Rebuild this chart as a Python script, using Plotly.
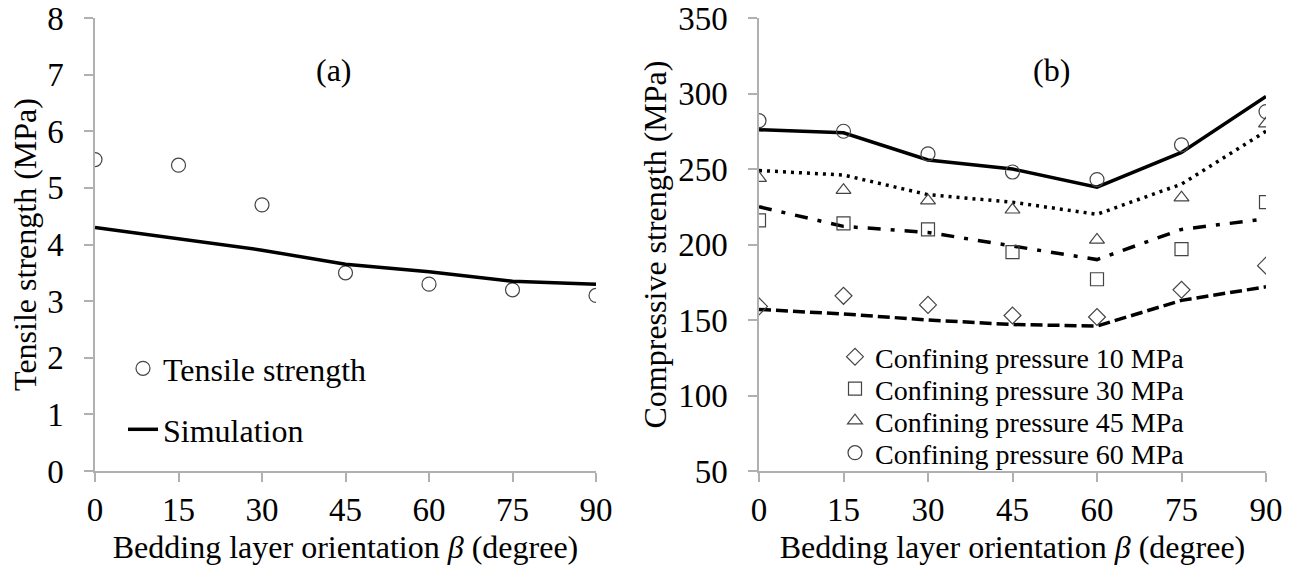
import plotly.graph_objects as go

beta = [0, 15, 30, 45, 60, 75, 90]
tensile_exp = [5.5, 5.4, 4.7, 3.5, 3.3, 3.2, 3.1]
tensile_sim = [4.3, 4.1, 3.9, 3.65, 3.52, 3.35, 3.3]

comp_exp_10 = [159, 166, 160, 153, 152, 170, 186]
comp_exp_30 = [216, 214, 210, 195, 177, 197, 228]
comp_exp_45 = [244, 236, 229, 223, 203, 231, 280]
comp_exp_60 = [282, 275, 260, 248, 243, 266, 288]
comp_sim_10 = [157, 154, 150, 147, 146, 163, 172]
comp_sim_30 = [225, 212, 208, 199, 190, 210, 217]
comp_sim_45 = [249, 246, 233, 228, 220, 240, 275]
comp_sim_60 = [276, 274, 256, 250, 238, 261, 298]

W, H = 1296, 570
T, B = 18, 99
PH = H - T - B
FONT = "Liberation Serif"
MK = "#444444"
AX = "#b0b0b0"

def ly(px):
    return 1 - (px - T) / PH

fig = go.Figure()

# left panel
fig.add_trace(go.Scatter(x=beta, y=tensile_exp, mode="markers", name="Tensile strength",
                         marker=dict(symbol="circle-open", size=14, color=MK, line=dict(width=1.2)),
                         xaxis="x", yaxis="y", legend="legend"))
fig.add_trace(go.Scatter(x=beta, y=tensile_sim, mode="lines", name="Simulation",
                         line=dict(color="black", width=3.5),
                         xaxis="x", yaxis="y", legend="legend2"))

# right panel
fig.add_trace(go.Scatter(x=beta, y=comp_sim_60, mode="lines", showlegend=False,
                         line=dict(color="black", width=3.5), xaxis="x2", yaxis="y2"))
fig.add_trace(go.Scatter(x=beta, y=comp_sim_45, mode="lines", showlegend=False,
                         line=dict(color="black", width=3.5, dash="3px,5px"), xaxis="x2", yaxis="y2"))
fig.add_trace(go.Scatter(x=beta, y=comp_sim_30, mode="lines", showlegend=False,
                         line=dict(color="black", width=3.5, dash="13px,10px,4px,10px"), xaxis="x2", yaxis="y2"))
fig.add_trace(go.Scatter(x=beta, y=comp_sim_10, mode="lines", showlegend=False,
                         line=dict(color="black", width=3.5, dash="12px,5px"), xaxis="x2", yaxis="y2"))

right_series = [(comp_exp_10, "diamond-open", "Confining pressure 10 MPa", 13, "legend3", 355),
                (comp_exp_30, "square-open", "Confining pressure 30 MPa", 13, "legend4", 387),
                (comp_exp_45, "triangle-up-open", "Confining pressure 45 MPa", 13, "legend5", 419),
                (comp_exp_60, "circle-open", "Confining pressure 60 MPa", 14, "legend6", 451)]
for ys, sym, nm, sz, lg, _ in right_series:
    fig.add_trace(go.Scatter(x=beta, y=ys, mode="markers", name=nm,
                             marker=dict(symbol=sym, size=sz, color=MK, line=dict(width=1.2)),
                             xaxis="x2", yaxis="y2", legend=lg))

axis_common = dict(showline=True, linecolor=AX, linewidth=1.5, ticks="outside",
                   tickcolor=AX, ticklen=9, tickwidth=1.5, showgrid=False, zeroline=False,
                   automargin=False,
                   tickfont=dict(family=FONT, size=33, color="black"),
                   title_font=dict(family=FONT, size=32, color="black"))

xt = "Bedding layer orientation <i>β</i> (degree)"

def legend_at(x_px, center_px, size):
    return dict(x=x_px / W, y=ly(center_px - (23 if size == 28 else 28)), xanchor="left", yanchor="top",
                bgcolor="rgba(0,0,0,0)", font=dict(family=FONT, size=size, color="black"),
                itemwidth=30, tracegroupgap=0)

layout_legends = {
    "legend": legend_at(123, 369, 32),
    "legend2": legend_at(123, 430, 32),
}
for _, _, _, _, lg, cy in right_series:
    layout_legends[lg] = legend_at(835, cy, 28)

fig.update_layout(
    width=W, height=H,
    paper_bgcolor="white", plot_bgcolor="white",
    margin=dict(l=0, r=0, t=T, b=B),
    font=dict(family=FONT, color="black"),
    xaxis=dict(domain=[95 / W, 596 / W], range=[0, 90], tickvals=beta,
               title=dict(text=xt, standoff=8), ticklabelstandoff=0,
               anchor="y", **axis_common),
    yaxis=dict(domain=[0, 1], range=[0, 8], tickvals=list(range(0, 9)),
               title=dict(text="Tensile strength (MPa)", standoff=1), ticklabelstandoff=14,
               anchor="x", **axis_common),
    xaxis2=dict(domain=[759 / W, 1266 / W], range=[0, 90], tickvals=beta,
                title=dict(text=xt, standoff=8), ticklabelstandoff=0,
                anchor="y2", **axis_common),
    yaxis2=dict(domain=[0, 1], range=[50, 350], tickvals=list(range(50, 351, 50)),
                title=dict(text="Compressive strength (MPa)", standoff=2), ticklabelstandoff=14,
                anchor="x2", **axis_common),
    annotations=[
        dict(text="(a)", x=43, y=7.08, xref="x", yref="y", showarrow=False,
             font=dict(family=FONT, size=32, color="black")),
        dict(text="(b)", x=52, y=315.6, xref="x2", yref="y2", showarrow=False,
             font=dict(family=FONT, size=32, color="black")),
    ],
    **layout_legends,
)

fig.write_html("out.html", config={"displayModeBar": False},
               post_script="document.body.style.margin='0';")
